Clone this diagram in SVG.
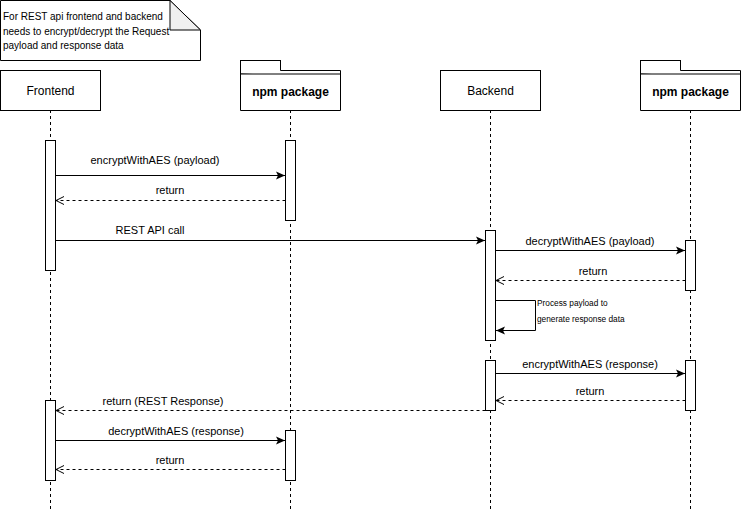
<svg xmlns="http://www.w3.org/2000/svg" width="741" height="511" viewBox="0 0 741 511">
<style>
text{font-family:"Liberation Sans",Arial,sans-serif;fill:#000}
.box{fill:#fff;stroke:#000;stroke-width:1}
.life{stroke:#000;stroke-dasharray:3,3;fill:none}
.msg{stroke:#000;fill:none}
.ret{stroke:#000;fill:none;stroke-dasharray:3,3}
.lbl{font-size:11px;text-anchor:middle}
.hdr{font-size:12px;text-anchor:middle}
</style>
<defs>
<marker id="fill" markerWidth="10" markerHeight="10" refX="9" refY="5" orient="auto" markerUnits="userSpaceOnUse">
<path d="M0,1 L9,5 L0,9 L2,5 Z" fill="#000"/>
</marker>
<marker id="open" markerWidth="10" markerHeight="10" refX="9" refY="5" orient="auto" markerUnits="userSpaceOnUse">
<path d="M1,1 L9,5 L1,9" fill="none" stroke="#000"/>
</marker>
</defs>
<rect width="741" height="511" fill="#fff"/>

<g id="note">
<path class="box" d="M0.5,0.5 H170 L200.5,30 V60.5 H0.5 Z"/>
<path d="M170,0.5 V30 H200.5 Z" fill="#f0f0f0" stroke="#000"/>
<text x="3" y="20" font-size="10">For REST api frontend and backend</text>
<text x="3" y="34.5" font-size="10">needs to encrypt/decrypt the Request</text>
<text x="3" y="49" font-size="10">payload and response data</text>
</g>

<g id="frontend">
<line class="life" x1="50.5" y1="110" x2="50.5" y2="511"/>
<rect class="box" x="0.5" y="70.5" width="100" height="40"/>
<text class="hdr" x="50.5" y="94.5">Frontend</text>
</g>

<g id="npm1">
<line class="life" x1="290.5" y1="110" x2="290.5" y2="511"/>
<rect class="box" x="240.5" y="60.5" width="40" height="13.5"/>
<path class="box" d="M280.5,70.5 H340.5 V110.5 H240.5 V74"/>
<line x1="240.5" y1="74" x2="340.5" y2="74" stroke="#000"/>
<text class="hdr" x="290.5" y="96" font-weight="bold">npm package</text>
</g>

<g id="backend">
<line class="life" x1="490.5" y1="110" x2="490.5" y2="511"/>
<rect class="box" x="440.5" y="70.5" width="100" height="40"/>
<text class="hdr" x="490.5" y="94.5">Backend</text>
</g>

<g id="npm2">
<line class="life" x1="690.5" y1="110" x2="690.5" y2="511"/>
<rect class="box" x="640.5" y="60.5" width="40" height="13.5"/>
<path class="box" d="M680.5,70.5 H740.5 V110.5 H640.5 V74"/>
<line x1="640.5" y1="74" x2="740.5" y2="74" stroke="#000"/>
<text class="hdr" x="690.5" y="96" font-weight="bold">npm package</text>
</g>

<g id="activations">
<rect class="box" x="45.5" y="140.5" width="10" height="130"/>
<rect class="box" x="285.5" y="140.5" width="10" height="80"/>
<rect class="box" x="485.5" y="230.5" width="10" height="110"/>
<rect class="box" x="685.5" y="240.5" width="10" height="50"/>
<rect class="box" x="485.5" y="360.5" width="10" height="50"/>
<rect class="box" x="685.5" y="360.5" width="10" height="50"/>
<rect class="box" x="45.5" y="400.5" width="10" height="80"/>
<rect class="box" x="285.5" y="430.5" width="10" height="50"/>
</g>

<g id="connectors">
<line class="msg" x1="55.5" y1="175.5" x2="285" y2="175.5" marker-end="url(#fill)"/>
<text class="lbl" x="155" y="164">encryptWithAES (payload)</text>
<line class="ret" x1="285.5" y1="200.5" x2="56" y2="200.5" marker-end="url(#open)"/>
<text class="lbl" x="170" y="194">return</text>
<line class="msg" x1="55.5" y1="240.5" x2="485" y2="240.5" marker-end="url(#fill)"/>
<text class="lbl" x="150" y="234">REST API call</text>
<line class="msg" x1="495.5" y1="250.5" x2="685" y2="250.5" marker-end="url(#fill)"/>
<text class="lbl" x="590" y="244.5">decryptWithAES (payload)</text>
<line class="ret" x1="685.5" y1="280.5" x2="496" y2="280.5" marker-end="url(#open)"/>
<text class="lbl" x="593" y="274.5">return</text>
<path class="msg" d="M495.5,300.5 H535.5 V330.5 H496" marker-end="url(#fill)"/>
<text x="537" y="306" font-size="8.3">Process payload to</text>
<text x="537" y="322" font-size="8.3">generate response data</text>
<line class="msg" x1="495.5" y1="373.5" x2="685" y2="373.5" marker-end="url(#fill)"/>
<text class="lbl" x="590" y="368">encryptWithAES (response)</text>
<line class="ret" x1="685.5" y1="400.5" x2="496" y2="400.5" marker-end="url(#open)"/>
<text class="lbl" x="590" y="394.5">return</text>
<line class="ret" x1="485.5" y1="410.5" x2="56" y2="410.5" marker-end="url(#open)"/>
<text class="lbl" x="163" y="404.5">return (REST Response)</text>
<line class="msg" x1="55.5" y1="440.5" x2="285" y2="440.5" marker-end="url(#fill)"/>
<text class="lbl" x="176" y="435">decryptWithAES (response)</text>
<line class="ret" x1="285.5" y1="469.5" x2="56" y2="469.5" marker-end="url(#open)"/>
<text class="lbl" x="170" y="463.5">return</text>
</g>
</svg>
